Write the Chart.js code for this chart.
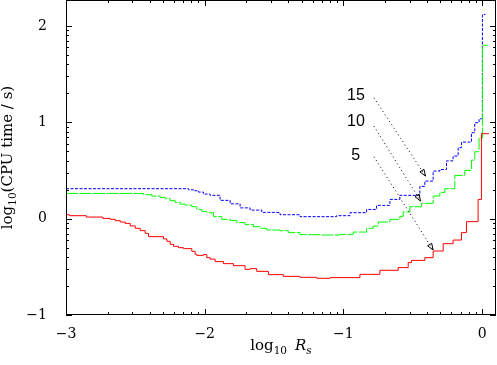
<!DOCTYPE html>
<html>
<head>
<meta charset="utf-8">
<script src="https://cdn.jsdelivr.net/npm/chart.js@4.4.0/dist/chart.umd.min.js"></script>
<style>
html, body { margin: 0; padding: 0; background: #fff; }
#wrap { width: 497px; height: 365px; }
</style>
</head>
<body>
<div id="wrap"><canvas id="cpuChart" width="497" height="365"></canvas></div>
<script>
// CPU time vs log10 Rs, three step curves (5, 10, 15)

// axis ranges and tick labels
const xMin = -3, xMax = 0.1;
const yMin = -1, yMax = 2.27;
const xTicks = [-3, -2, -1, 0];
const yTicks = [-1, 0, 1, 2];

// series 5 (red, solid)
const redX = [-3, -2.974, -2.854, -2.734, -2.681, -2.645, -2.609, -2.573, -2.537, -2.501,
    -2.465, -2.429, -2.405, -2.297, -2.273, -2.249, -2.225, -2.189, -2.153, -2.093,
    -2.069, -2.057, -2.009, -1.985, -1.961, -1.925, -1.865, -1.793, -1.709, -1.673,
    -1.625, -1.541, -1.433, -1.313, -1.193, -1.097, -0.881, -0.737, -0.605, -0.533,
    -0.509, -0.413, -0.353, -0.281, -0.209, -0.149, -0.113, -0.029, -0.005, 0.05];
const redY = [0.041, 0.031, 0.017, 0.003, -0.007, -0.021, -0.035, -0.049, -0.075, -0.1,
    -0.124, -0.152, -0.187, -0.21, -0.235, -0.267, -0.287, -0.301, -0.311, -0.339,
    -0.37, -0.381, -0.373, -0.405, -0.42, -0.446, -0.467, -0.488, -0.526, -0.519,
    -0.547, -0.581, -0.599, -0.609, -0.619, -0.612, -0.578, -0.536, -0.508, -0.456,
    -0.433, -0.405, -0.336, -0.26, -0.222, -0.145, -0.031, 0.2, 0.882, 0.882];

// series 10 (green, dashed)
const greenX = [-3, -2.441, -2.381, -2.321, -2.285, -2.249, -2.213, -2.177, -2.141, -2.093,
    -2.057, -2.021, -1.985, -1.937, -1.877, -1.817, -1.769, -1.709, -1.649, -1.601,
    -1.553, -1.457, -1.397, -1.313, -1.169, -1.025, -0.929, -0.833, -0.785, -0.749,
    -0.665, -0.593, -0.569, -0.521, -0.437, -0.353, -0.305, -0.269, -0.197, -0.125,
    -0.077, -0.053, -0.022, 0.002, 0.04];
const greenY = [0.262, 0.249, 0.234, 0.221, 0.207, 0.187, 0.169, 0.151, 0.141, 0.124,
    0.096, 0.076, 0.062, 0.021, -0.007, -0.018, -0.041, -0.062, -0.083, -0.1,
    -0.118, -0.125, -0.145, -0.166, -0.17, -0.163, -0.139, -0.1, -0.077, -0.035,
    -0.007, 0.024, 0.069, 0.124, 0.159, 0.235, 0.273, 0.311, 0.449, 0.501,
    0.608, 0.695, 0.84, 1.8, 1.8];

// series 15 (blue, dotted)
const blueX = [-3, -2.117, -2.081, -2.045, -2.009, -1.961, -1.889, -1.817, -1.745, -1.673,
    -1.589, -1.457, -1.313, -1.049, -0.953, -0.833, -0.761, -0.665, -0.593, -0.449,
    -0.413, -0.353, -0.305, -0.257, -0.209, -0.173, -0.149, -0.077, -0.053, -0.022,
    0.002, 0.024];
const blueY = [0.311, 0.3, 0.29, 0.276, 0.255, 0.242, 0.19, 0.154, 0.112, 0.089,
    0.065, 0.041, 0.021, 0.031, 0.062, 0.096, 0.138, 0.2, 0.242, 0.335,
    0.39, 0.494, 0.51, 0.6, 0.65, 0.737, 0.795, 0.892, 0.996, 1.037,
    2.12, 2.12];

// labels with dotted arrows
const noteText = ['15', '10', '5'];
const noteX = [-0.845, -0.845, -0.88];
const noteY = [1.279, 1.004, 0.657];
const arrowFromX = [-0.78, -0.78, -0.78];
const arrowFromY = [1.255, 0.961, 0.643];
const arrowToX = [-0.408, -0.444, -0.353];
const arrowToY = [0.442, 0.183, -0.326];

function toPoints(xs, ys) {
    return xs.map((v, i) => ({ x: v, y: ys[i] }));
}

// gnuplot style log-spaced minor ticks between integer values
function minorTicks(min, max) {
    const out = [];
    for (let d = Math.floor(min); d < max; d++) {
        for (let k = 2; k <= 9; k++) {
            const v = d + Math.log10(k);
            if (v > min && v < max) out.push(v);
        }
    }
    return out;
}

const serif = '"DejaVu Serif", "Liberation Serif", serif';

// draw text made of parts (normal / subscript / italic), centred on cx
function drawParts(ctx, parts, cx, baseline) {
    let w = 0;
    parts.forEach(p => { ctx.font = p.font; w += ctx.measureText(p.t).width + (p.gap || 0); });
    let xPos = cx - w / 2;
    parts.forEach(p => {
        ctx.font = p.font;
        xPos += p.gap || 0;
        ctx.fillText(p.t, xPos, baseline + (p.dy || 0));
        xPos += ctx.measureText(p.t).width;
    });
}

const framePlugin = {
    id: 'framePlugin',
    afterDatasetsDraw(chart) {
        const { ctx, chartArea: a, scales: { x, y } } = chart;
        ctx.save();
        ctx.strokeStyle = '#000';
        ctx.lineWidth = 1;
        ctx.setLineDash([]);

        const seg = (x1, y1, x2, y2) => {
            ctx.beginPath();
            ctx.moveTo(x1, y1);
            ctx.lineTo(x2, y2);
            ctx.stroke();
        };

        // ticks pointing inwards, mirrored on all four sides
        const xTick = (v, len) => {
            const px = Math.round(x.getPixelForValue(v)) + 0.5;
            seg(px, a.bottom, px, a.bottom - len);
            seg(px, a.top, px, a.top + len);
        };
        const yTick = (v, len) => {
            const py = Math.round(y.getPixelForValue(v)) + 0.5;
            seg(a.left, py, a.left + len, py);
            seg(a.right, py, a.right - len, py);
        };
        xTicks.forEach(v => xTick(v, 6));
        minorTicks(xMin, xMax).forEach(v => xTick(v, 3));
        yTicks.forEach(v => yTick(v, 6));
        minorTicks(yMin, yMax).forEach(v => yTick(v, 3));

        ctx.strokeRect(a.left + 0.5, a.top + 0.5, a.right - a.left - 1, a.bottom - a.top - 1);

        // annotations
        ctx.fillStyle = '#000';
        ctx.font = '16px "Liberation Sans", Arial, sans-serif';
        ctx.textAlign = 'right';
        ctx.textBaseline = 'middle';
        noteText.forEach((t, i) => {
            ctx.fillText(t, x.getPixelForValue(noteX[i]), y.getPixelForValue(noteY[i]));
        });

        noteText.forEach((t, i) => {
            const x1 = x.getPixelForValue(arrowFromX[i]), y1 = y.getPixelForValue(arrowFromY[i]);
            const x2 = x.getPixelForValue(arrowToX[i]), y2 = y.getPixelForValue(arrowToY[i]);
            ctx.setLineDash([1, 3]);
            seg(x1, y1, x2, y2);
            ctx.setLineDash([]);
            const ang = Math.atan2(y2 - y1, x2 - x1);
            const hl = 7, hw = 0.35;
            ctx.beginPath();
            ctx.moveTo(x2 - hl * Math.cos(ang - hw), y2 - hl * Math.sin(ang - hw));
            ctx.lineTo(x2, y2);
            ctx.lineTo(x2 - hl * Math.cos(ang + hw), y2 - hl * Math.sin(ang + hw));
            ctx.closePath();
            ctx.stroke();
        });

        // axis titles
        ctx.textAlign = 'left';
        ctx.textBaseline = 'alphabetic';
        const main = '15px ' + serif;
        const sub = '10.5px ' + serif;
        const ital = 'italic 15px ' + serif;
        const italSub = 'italic 10.5px ' + serif;
        drawParts(ctx, [
            { t: 'log', font: main },
            { t: '10', font: sub, dy: 3.5 },
            { t: 'R', font: ital, gap: 8 },
            { t: 's', font: italSub, dy: 3.5 }
        ], (a.left + a.right) / 2, 350);

        ctx.translate(12, (a.top + a.bottom) / 2);
        ctx.rotate(-Math.PI / 2);
        drawParts(ctx, [
            { t: 'log', font: main },
            { t: '10', font: sub, dy: 3.5 },
            { t: '(CPU time / s)', font: main }
        ], 0, 0);
        ctx.restore();
    }
};

const fmt = v => String(v).replace('-', '\u2212');

new Chart(document.getElementById('cpuChart'), {
    type: 'line',
    data: {
        datasets: [{
            label: '5',
            data: toPoints(redX, redY),
            borderColor: '#ff0000',
            borderWidth: 1,
            stepped: true,
            pointRadius: 0,
            fill: false
        }, {
            label: '10',
            data: toPoints(greenX, greenY),
            borderColor: '#00ff00',
            borderWidth: 1,
            borderDash: [12, 1.5],
            stepped: true,
            pointRadius: 0,
            fill: false
        }, {
            label: '15',
            data: toPoints(blueX, blueY),
            borderColor: '#0000ff',
            borderWidth: 1,
            borderDash: [3, 1.5],
            stepped: true,
            pointRadius: 0,
            fill: false
        }]
    },
    options: {
        responsive: false,
        animation: false,
        devicePixelRatio: 1,
        layout: { padding: { left: 0, right: 1, top: 0, bottom: 0 } },
        plugins: {
            legend: { display: false },
            tooltip: { enabled: false }
        },
        scales: {
            x: {
                type: 'linear',
                min: xMin,
                max: xMax,
                afterBuildTicks: scale => { scale.ticks = xTicks.map(v => ({ value: v })); },
                afterFit: scale => {
                    scale.height = 50;
                    scale.paddingLeft = 0;
                    scale.paddingRight = 0;
                },
                grid: { display: false },
                border: { display: false },
                ticks: {
                    padding: 3,
                    maxRotation: 0,
                    color: '#000',
                    font: { family: serif, size: 14 },
                    callback: v => fmt(v)
                }
            },
            y: {
                type: 'linear',
                min: yMin,
                max: yMax,
                afterBuildTicks: scale => { scale.ticks = yTicks.map(v => ({ value: v })); },
                afterFit: scale => {
                    scale.width = 66;
                    scale.paddingTop = 0;
                    scale.paddingBottom = 0;
                },
                grid: { display: false },
                border: { display: false },
                ticks: {
                    padding: 11,
                    color: '#000',
                    font: { family: serif, size: 14 },
                    callback: v => fmt(v)
                }
            }
        }
    },
    plugins: [framePlugin]
});
</script>
</body>
</html>
